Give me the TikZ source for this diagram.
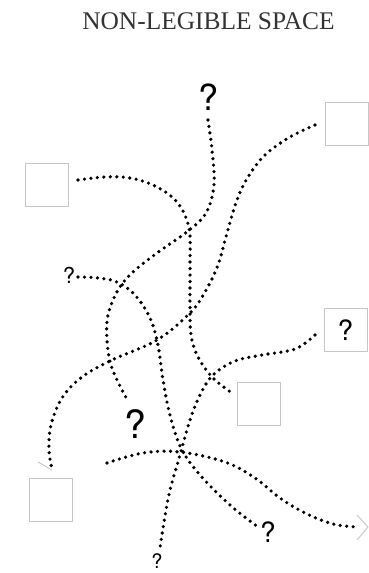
\documentclass[tikz,border=0pt]{standalone}
\usepackage{fontspec}
\setmainfont{Liberation Serif}
\newfontfamily\qfont{TeX Gyre Heros}
\begin{document}
\begin{tikzpicture}[x=1pt,y=-1pt,
  box/.style={draw=black!22, line width=0.9pt, minimum size=43pt, inner sep=0pt},
  qm/.style={inner sep=0pt, font=\qfont},
  dotline/.style={line width=3.6pt, line cap=round, dash pattern=on 0pt off 6.5pt},
  tipline/.style={draw=black!22, line width=0.9pt}]
\useasboundingbox (0,0) rectangle (369,573);
% title
\node[text=black!80, font=\fontsize{25.4}{28}\selectfont, inner sep=0pt] (title) at (208.5,21) {NON-LEGIBLE SPACE};
% boxes
\node[box] (sqTR) at (346.5,123.5) {};
\node[box] (sqL)  at (47,184.5) {};
\node[box, font=\qfont\fontsize{28}{30}\selectfont] (sqQ) at (345.5,330) {?};
\node[box] (sqM)  at (259,404) {};
\node[box] (sqBL) at (51,500) {};
% question marks
\node[qm, font=\qfont\fontsize{36}{38}\selectfont] (qTop) at (209,97) {?};
\node[qm, font=\qfont\fontsize{22}{24}\selectfont] (qB) at (69,275) {?};
\node[qm, font=\qfont\fontsize{39}{41}\selectfont] (qC) at (135,424) {?};
\node[qm, font=\qfont\fontsize{28}{30}\selectfont] (qD) at (268,532) {?};
\node[qm, font=\qfont\fontsize{20}{22}\selectfont] (qE) at (157,561) {?};
% arrow tips
\coordinate (tipR) at (368,527);
\coordinate (tipL) at (52,470);
% dotted connectors
\draw[dotline] plot[smooth, tension=0.6] coordinates {(208,120) (212,150) (214,185) (206,213) (188,231) (157,253) (133,272) (118,290) (108,315) (107,340) (111,365) (120,386) (128,401)};
\draw[dotline] plot[smooth, tension=0.6] coordinates {(315,125) (290,137) (265,155) (248,177) (237,200) (227,233) (218,265) (205,292) (190,313) (157,340) (112,360) (82,377) (62,398) (51,425) (49,450) (52,469)};
\draw[dotline] plot[smooth, tension=0.6] coordinates {(78,180) (105,177) (130,178) (155,186) (177,202) (189,228) (190,265) (190,305) (191,335) (198,357) (213,378) (232,393)};
\draw[dotline] plot[smooth, tension=0.6] coordinates {(78,277) (98,278) (117,282) (135,295) (150,318) (158,345) (163,380) (170,415) (181,448) (200,475) (230,505) (258,527)};
\draw[dotline] plot[smooth, tension=0.6] coordinates {(315,335) (295,349) (262,355) (235,361) (213,375) (200,395) (190,420) (180,455) (170,490) (164,522) (160,548)};
\draw[dotline] plot[smooth, tension=0.6] coordinates {(107,463) (143,453) (180,452) (225,462) (255,478) (280,498) (305,513) (333,524) (357,527)};
% arrow heads
\draw[tipline] (357,515) -- (tipR) -- (357,540);
\draw[tipline] (38,462) -- (tipL);
\end{tikzpicture}
\end{document}
